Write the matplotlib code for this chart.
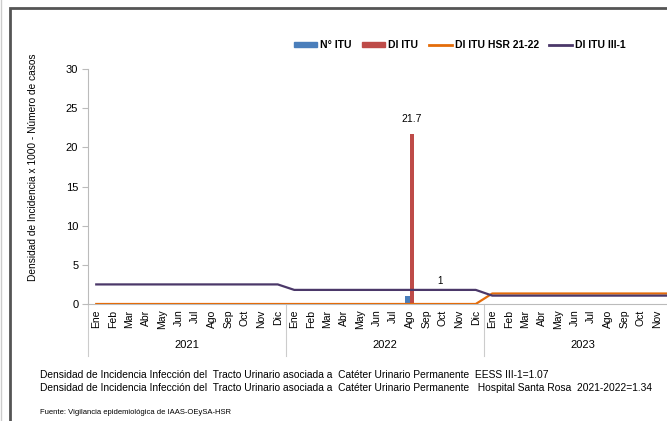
import matplotlib
matplotlib.use("Agg")
import matplotlib.pyplot as plt
import numpy as np
from matplotlib.patches import Patch, Rectangle
from matplotlib.lines import Line2D
import matplotlib.transforms as mtransforms

plt.rcParams['font.family'] = ['Liberation Sans Narrow', 'Liberation Sans', 'DejaVu Sans']

# data
meses = ['Ene', 'Feb', 'Mar', 'Abr', 'May', 'Jun', 'Jul', 'Ago', 'Sep', 'Oct', 'Nov', 'Dic']
anios = ['2021', '2022', '2023']
n_itu = [0, 0, 0, 0, 0, 0, 0, 0, 0, 0, 0, 0,
         0, 0, 0, 0, 0, 0, 0, 1, 0, 0, 0, 0,
         0, 0, 0, 0, 0, 0, 0, 0, 0, 0, 0, 0]
di_itu = [0, 0, 0, 0, 0, 0, 0, 0, 0, 0, 0, 0,
          0, 0, 0, 0, 0, 0, 0, 21.7, 0, 0, 0, 0,
          0, 0, 0, 0, 0, 0, 0, 0, 0, 0, 0, 0]
di_hsr = [0, 0, 0, 0, 0, 0, 0, 0, 0, 0, 0, 0,
          0, 0, 0, 0, 0, 0, 0, 0, 0, 0, 0, 0,
          1.34, 1.34, 1.34, 1.34, 1.34, 1.34, 1.34, 1.34, 1.34, 1.34, 1.34, 1.34]
di_iii = [2.5, 2.5, 2.5, 2.5, 2.5, 2.5, 2.5, 2.5, 2.5, 2.5, 2.5, 2.5,
          1.8, 1.8, 1.8, 1.8, 1.8, 1.8, 1.8, 1.8, 1.8, 1.8, 1.8, 1.8,
          1.07, 1.07, 1.07, 1.07, 1.07, 1.07, 1.07, 1.07, 1.07, 1.07, 1.07, 1.07]

labels = meses * len(anios)
x = np.arange(len(labels))

c_blue = '#4A7EBB'
c_red = '#BE4B48'
c_orange = '#E46C0A'
c_purple = '#4B3869'

fig = plt.figure(figsize=(6.67, 4.21), dpi=100)
ax = fig.add_axes([88 / 667, 117 / 421, 594 / 667, 235 / 421])

w = 0.28
ax.bar(x - w / 2, n_itu, width=w, color=c_blue, zorder=2)
ax.bar(x + w / 2, di_itu, width=w, color=c_red, zorder=2)
ax.plot(x, di_hsr, color=c_orange, lw=1.6, zorder=3)
ax.plot(x, di_iii, color=c_purple, lw=1.6, zorder=3)

# data labels
i_max = int(np.argmax(di_itu))
ax.text(x[i_max] + w / 2, di_itu[i_max] + 1.3, '21.7', ha='center', va='bottom', fontsize=7.5)
i_n = int(np.argmax(n_itu))
ax.text(x[i_n] + 1.85, 2.3, '1', ha='center', va='bottom', fontsize=7)

ax.set_xlim(-0.5, len(labels) - 0.5)
ax.set_ylim(0, 30)
ax.set_yticks(range(0, 31, 5))
ax.tick_params(axis='y', labelsize=8, length=4, color='#bbbbbb', pad=3)
ax.set_xticks(x)
ax.set_xticklabels(labels, rotation=90, fontsize=7.5)
ax.tick_params(axis='x', length=0, pad=4)
# last month label lies past the right edge of the picture
ax.get_xticklabels()[-1].set_visible(False)
for s in ['top', 'right']:
    ax.spines[s].set_visible(False)
ax.spines['left'].set_color('#bbbbbb')
ax.spines['bottom'].set_color('#bbbbbb')

ax.set_ylabel('Densidad de Incidencia x 1000 - Número de casos', fontsize=7.3)
ax.yaxis.set_label_coords(-0.085, 0.58)

# year groups below month labels
trans = mtransforms.blended_transform_factory(ax.transData, ax.transAxes)
for k in range(len(anios) + 1):
    xb = k * 12 - 0.5
    ax.plot([xb, xb], [0, -0.22], color='#cccccc', lw=0.8, transform=trans, clip_on=False)
for k, a in enumerate(anios):
    ax.text(k * 12 + 5.5, -0.175, a, ha='center', va='center', fontsize=8, transform=trans)

handles = [Patch(color=c_blue), Patch(color=c_red),
           Line2D([], [], color=c_orange, lw=2), Line2D([], [], color=c_purple, lw=2)]
fig.legend(handles, ['N° ITU', 'DI ITU', 'DI ITU HSR 21-22', 'DI ITU III-1'],
           loc='center', bbox_to_anchor=(0.69, 0.893), ncol=4, frameon=False,
           prop={'weight': 'bold', 'size': 7.5}, handlelength=2.2, handleheight=0.45,
           handletextpad=0.3, columnspacing=1.0)

fig.text(40 / 667, 1 - 375 / 421, 'Densidad de Incidencia Infección del  Tracto Urinario asociada a  Catéter Urinario Permanente  EESS III-1=1.07',
         fontsize=7.4, va='center')
fig.text(40 / 667, 1 - 388 / 421, 'Densidad de Incidencia Infección del  Tracto Urinario asociada a  Catéter Urinario Permanente   Hospital Santa Rosa  2021-2022=1.34',
         fontsize=7.4, va='center')
fig.text(40 / 667, 1 - 413 / 421, 'Fuente: Vigilancia epidemiológica de IAAS-OEySA-HSR', fontsize=5.5, va='center')

# outer frame
fig.patches.append(Rectangle((10 / 667, -0.1), 1.2, 1.1 - 8 / 421, transform=fig.transFigure,
                             fill=False, edgecolor='#555555', lw=2))
fig.add_artist(Line2D([1 / 667, 1 / 667], [0, 1], color='#cccccc', lw=1, transform=fig.transFigure))

fig.savefig('out.png', dpi=100)
